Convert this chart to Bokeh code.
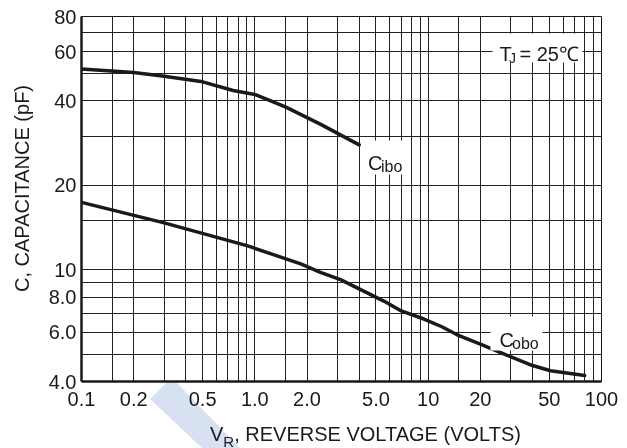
import math
from bokeh.plotting import figure
from bokeh.layouts import column
from bokeh.models import FixedTicker, Label, BoxAnnotation, Div
from bokeh.embed import file_html
from bokeh.resources import INLINE

# ---- data ----
cibo_v = [0.1, 0.2, 0.3, 0.5, 0.75, 1.0, 1.5, 2.4, 4.0]
cibo_c = [52.0, 50.5, 49.0, 46.8, 43.6, 42.2, 38.1, 33.0, 27.9]

cobo_v = [0.1, 0.3, 0.9, 1.84, 2.39, 3.12, 5.55, 7.0, 9.45, 12.0, 14.7, 20.0, 28.6, 40.0, 50.8, 80.0]
cobo_c = [17.4, 14.7, 12.2, 10.5, 9.8, 9.23, 7.74, 7.14, 6.68, 6.27, 5.87, 5.44, 4.96, 4.56, 4.37, 4.2]

x_ticks = [0.1, 0.2, 0.5, 1, 2, 5, 10, 20, 50, 100]
x_tick_labels = ["0.1", "0.2", "0.5", "1.0", "2.0", "5.0", "10", "20", "50", "100"]
y_ticks = [4, 6, 8, 10, 20, 40, 60, 80]
y_tick_labels = ["4.0", "6.0", "8.0", "10", "20", "40", "60", "80"]

x_grid = [0.1, 0.15, 0.2, 0.3, 0.4, 0.5, 0.6, 0.7, 0.8, 0.9,
          1, 1.5, 2, 3, 4, 5, 6, 7, 8, 9,
          10, 15, 20, 30, 40, 50, 60, 70, 80, 90, 100]
y_grid = [4, 5, 6, 7, 8, 9, 10, 15, 20, 30, 40, 50, 60, 70, 80]

FONT = "Liberation Sans"
INK = "#1a1a1a"
STRIPE = "#d7e1f2"
FS = 20  # axis text size, px

# ---- layout (picture pixels of the plot frame) ----
W, H, DIV_H = 627, 424, 24
FX0, FX1, FY0, FY1 = 81, 601, 16, 381
XMIN, XMAX, YMIN, YMAX = 0.1, 100.0, 4.0, 80.0


def px2x(px):
    return 10 ** (math.log10(XMIN) + math.log10(XMAX / XMIN) * (px - FX0) / (FX1 - FX0))


def py2y(py):
    return 10 ** (math.log10(YMIN) + math.log10(YMAX / YMIN) * (FY1 - py) / (FY1 - FY0))


p = figure(width=W, height=H, x_axis_type="log", y_axis_type="log",
           x_range=(XMIN, XMAX), y_range=(YMIN, YMAX),
           output_backend="svg", toolbar_location=None,
           min_border_left=FX0, min_border_right=W - FX1,
           min_border_top=FY0, min_border_bottom=H - FY1)
p.background_fill_color = "white"
p.border_fill_color = "white"
p.outline_line_color = INK
p.outline_line_width = 1

p.xaxis.ticker = FixedTicker(ticks=x_ticks)
p.yaxis.ticker = FixedTicker(ticks=y_ticks)
p.xaxis.major_label_overrides = dict(zip(x_ticks, x_tick_labels))
p.yaxis.major_label_overrides = dict(zip(y_ticks, y_tick_labels))
for ax in (p.xaxis, p.yaxis):
    ax.axis_line_width = 2.5
    ax.axis_line_color = INK
    ax.major_tick_line_color = None
    ax.minor_tick_line_color = None
    ax.major_tick_in = 0
    ax.major_tick_out = 0
    ax.minor_tick_in = 0
    ax.minor_tick_out = 0
    ax.major_label_text_font = FONT
    ax.major_label_text_font_size = "%dpx" % FS
    ax.major_label_text_color = INK
p.xaxis.major_label_standoff = 10
p.yaxis.major_label_standoff = 5

p.xgrid.ticker = FixedTicker(ticks=x_grid)
p.ygrid.ticker = FixedTicker(ticks=y_grid)
for g in (p.xgrid, p.ygrid):
    g.grid_line_color = "#222222"
    g.grid_line_width = 1
    g.grid_line_alpha = 1.0
p.xgrid.minor_grid_line_color = None
p.ygrid.minor_grid_line_color = None

# curves
p.line(cibo_v, cibo_c, line_width=3.5, line_color=INK, line_cap="round", line_join="round")
p.line(cobo_v, cobo_c, line_width=3.5, line_color=INK, line_cap="round", line_join="round")


def box(x0, x1, y0, y1):
    p.add_layout(BoxAnnotation(left=px2x(x0), right=px2x(x1), top=py2y(y0), bottom=py2y(y1),
                               fill_color="white", fill_alpha=1.0, line_color=None,
                               level="annotation"))


def lab(text, px, py, size, align="left", baseline="alphabetic"):
    p.add_layout(Label(x=px2x(px), y=py2y(py), text=text, text_font=FONT,
                       text_font_size=size, text_color=INK, text_align=align,
                       text_baseline=baseline))


# T_J = 25 C
box(492, 582, 33, 62)
lab("T", 499, 53, "20px")
lab("J", 508.5, 57.5, "14px")
lab("= 25\u2103", 519, 53, "20px")

# C_ibo
box(362, 405, 140, 174)
lab("C", 367.5, 162, "20px")
lab("ibo", 380.5, 166, "16px")

# C_obo
box(490, 542, 316, 350)
lab("C", 499, 339, "20px")
lab("obo", 511.5, 343, "16px")

# y-axis title in its own side panel (side-panel annotations are not clipped)
y_panel_left = 23.0
p.add_layout(Label(x=21 - y_panel_left, y=FY1 - 188, x_units="screen", y_units="screen",
                   text="C, CAPACITANCE (pF)", text_font=FONT, text_font_size="%dpx" % FS,
                   text_color=INK, text_align="center", text_baseline="middle",
                   angle=math.pi / 2), "left")

# x-axis title with a real subscript, below the figure, plus the light-blue watermark stripe
stripe = ('<div style="position:absolute;left:0px;top:-42px;width:%dpx;height:66px;background:%s;'
          'mix-blend-mode:multiply;pointer-events:none;'
          'clip-path:polygon(167px 0px, 176px 0px, 240px 66px, 202px 66px, 150px 17px)"></div>'
          % (W, STRIPE))
title = ('<div style="position:absolute;left:210px;top:0px;white-space:nowrap;'
         'font-family:\'Liberation Sans\';font-size:%dpx;line-height:20px;color:%s">'
         'V<sub style="font-size:15px;vertical-align:-6px;line-height:0">R</sub>, REVERSE VOLTAGE (VOLTS)</div>'
         % (FS, INK))
div = Div(text='<div style="position:relative;width:%dpx;height:%dpx">%s%s</div>'
          % (W, DIV_H, stripe, title),
          width=W, height=DIV_H, margin=(0, 0, 0, 0), styles={"overflow": "visible"})

layout = column(p, div, spacing=0)
open("out.html", "w").write(file_html(layout, INLINE))
